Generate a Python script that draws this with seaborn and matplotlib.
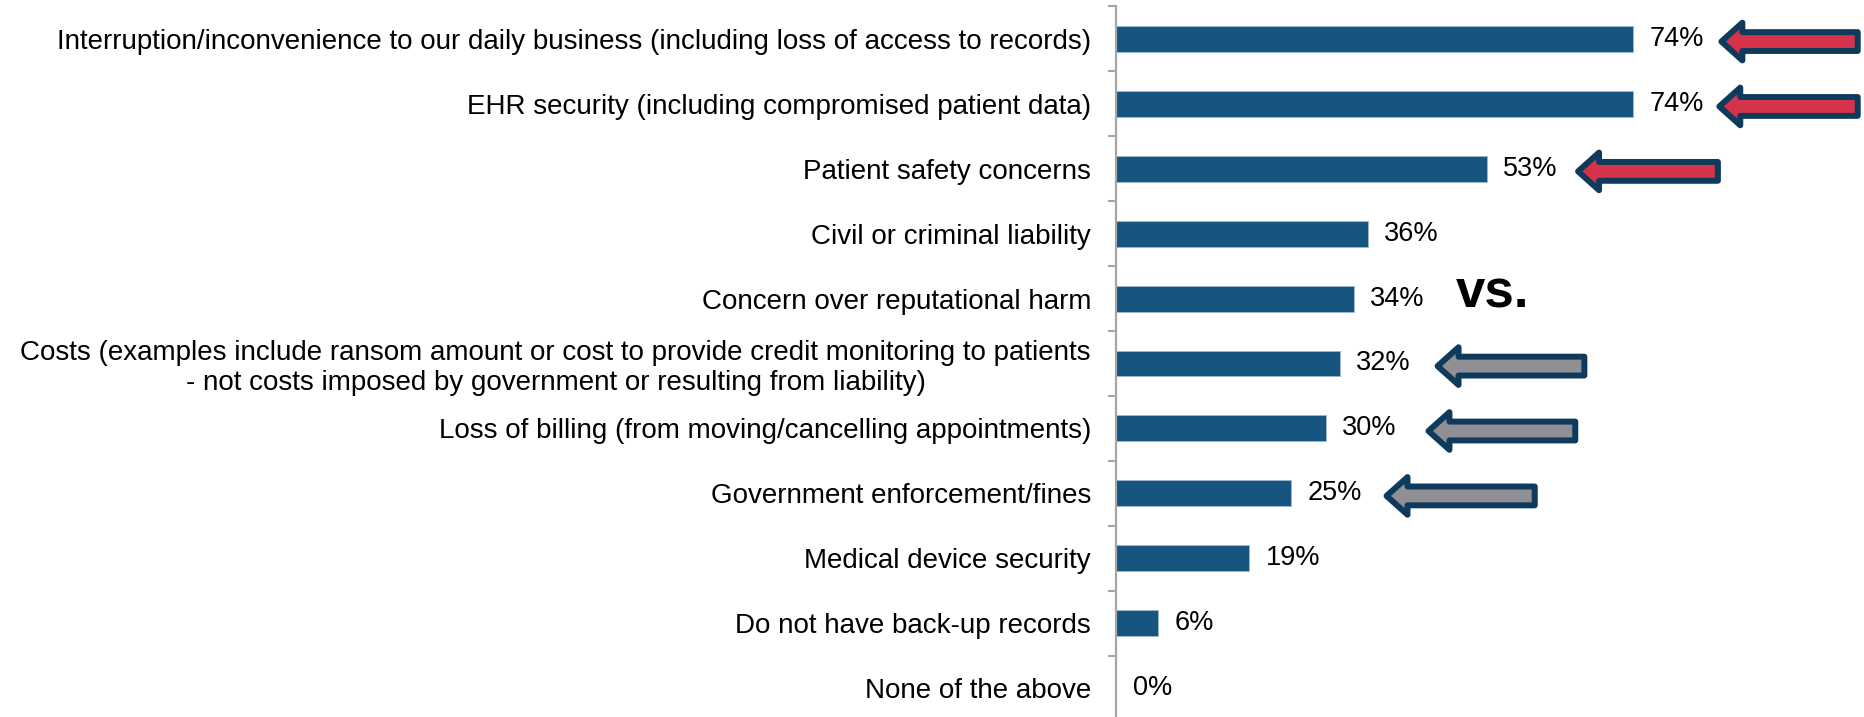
import matplotlib
matplotlib.use("Agg")
import matplotlib.pyplot as plt
import seaborn as sns
import pandas as pd
from matplotlib.patches import Polygon

categories = [
    "Interruption/inconvenience to our daily business (including loss of access to records)",
    "EHR security (including compromised patient data)",
    "Patient safety concerns",
    "Civil or criminal liability",
    "Concern over reputational harm",
    "Costs (examples include ransom amount or cost to provide credit monitoring to patients\n- not costs imposed by government or resulting from liability)",
    "Loss of billing (from moving/cancelling appointments)",
    "Government enforcement/fines",
    "Medical device security",
    "Do not have back-up records",
    "None of the above",
]
values = [74, 74, 53, 36, 34, 32, 30, 25, 19, 6, 0]

# annotation arrows: row index, tip position (%), length (%), fill colour
arrow_rows = [0, 1, 2, 5, 6, 7]
arrow_tips = [86.6, 86.3, 66.1, 46.0, 44.7, 38.7]
arrow_lengths = [19.5, 19.8, 20.0, 21.0, 21.0, 21.2]
arrow_fills = ["#d6334a", "#d6334a", "#d6334a", "#8f8f94", "#8f8f94", "#8f8f94"]

vs_text = "vs."

sns.set_style("white")
plt.rcParams["font.family"] = ["Liberation Sans", "DejaVu Sans"]

df = pd.DataFrame({"category": categories, "value": values})

fig = plt.figure(figsize=(18.64, 7.17), dpi=100)
ax = fig.add_axes([1116 / 1864, -3.5 / 717, 1 - 1116 / 1864, 714 / 717])

sns.barplot(data=df, x="value", y="category", orient="h", color="#16557f",
            width=0.4, ax=ax, saturation=1, edgecolor="#9fb8cc", linewidth=0.6)

ax.set_xlim(0, 107)
ax.set_ylim(10.5, -0.5)
ax.set_xlabel("")
ax.set_ylabel("")
ax.set_xticks([])

for c in ax.containers:
    ax.bar_label(c, fmt="{:.0f}%", padding=12, fontsize=19.5, color="black")

ax.tick_params(axis="y", which="major", length=0, pad=18, labelsize=20,
               labelcolor="black")
for lab in ax.get_yticklabels():
    lab.set_multialignment("center")
ax.set_yticks([i + 0.5 for i in range(-1, len(categories))], minor=True)
ax.tick_params(axis="y", which="minor", length=6, width=1.5, color="#a6a6a6",
               left=True)

for s in ["top", "right", "bottom"]:
    ax.spines[s].set_visible(False)
ax.spines["left"].set_color("#a6a6a6")
ax.spines["left"].set_linewidth(1.6)

hl, hh, bh = 3.0, 0.29, 0.145
for r, tip, L, fc in zip(arrow_rows, arrow_tips, arrow_lengths, arrow_fills):
    y = r + 0.04
    pts = [(tip, y), (tip + hl, y - hh), (tip + hl, y - bh), (tip + L, y - bh),
           (tip + L, y + bh), (tip + hl, y + bh), (tip + hl, y + hh)]
    ax.add_patch(Polygon(pts, closed=True, facecolor=fc, edgecolor="#0e3a5c",
                         linewidth=4.3, joinstyle="round", clip_on=False,
                         zorder=5))

ax.text(53.9, 4.14, vs_text, ha="center", va="baseline", fontsize=38,
        fontweight="bold", color="black")

fig.savefig("out.png", dpi=100)
